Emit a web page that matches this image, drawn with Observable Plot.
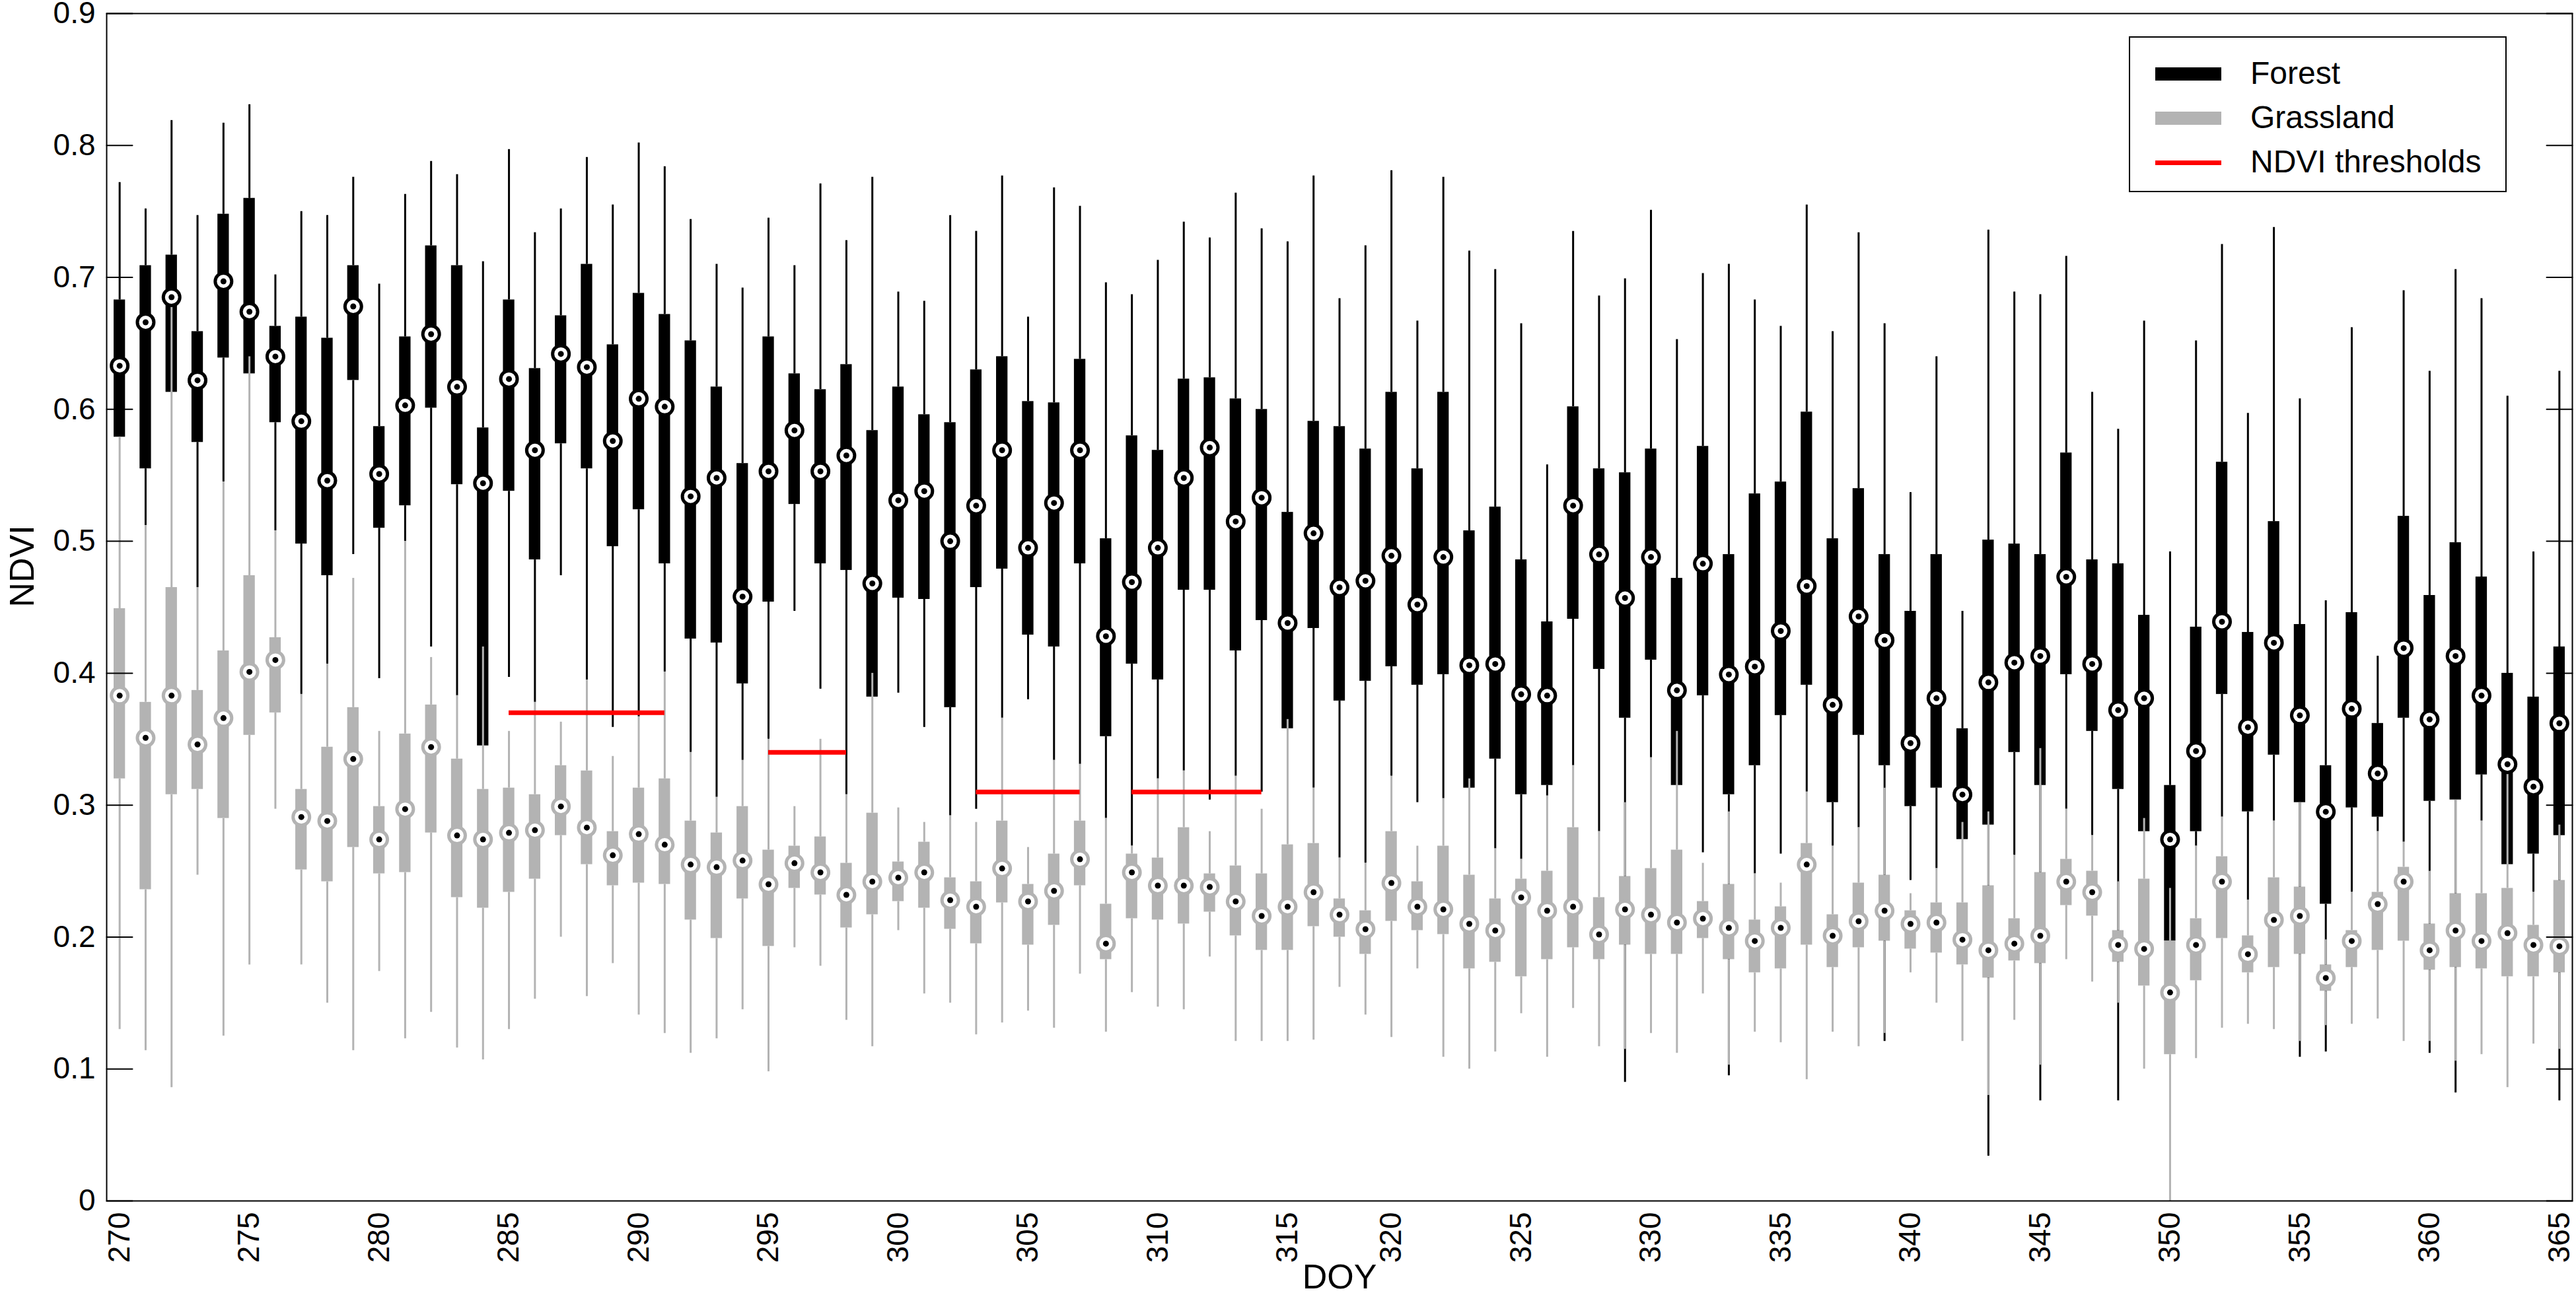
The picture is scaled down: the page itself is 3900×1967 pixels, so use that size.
<!DOCTYPE html>
<html><head><meta charset="utf-8">
<script src="https://cdn.jsdelivr.net/npm/d3@7"></script>
<script src="https://cdn.jsdelivr.net/npm/@observablehq/plot@0.6"></script>
<style>
html,body{margin:0;padding:0;background:#fff;}
#wrap{position:relative;width:3900px;height:1967px;font-family:"Liberation Sans",Arial,Helvetica,sans-serif;}
#legend{position:absolute;left:3223px;top:55px;width:568px;height:232px;border:2px solid #000;background:#fff;}
.sw{position:absolute;left:38px;width:100px;}
.lbl{position:absolute;left:182px;font-size:48px;line-height:48px;white-space:nowrap;color:#000;}
</style></head>
<body><div id="wrap"><div id="chart"></div><div id="legend"></div></div>
<script>
// Day of year for each box (one day between 315 and 320 has no box)
const days = [270,271,272,273,274,275,276,277,278,279,280,281,282,283,284,285,286,287,288,289,
  290,291,292,293,294,295,296,297,298,299,300,301,302,303,304,305,306,307,308,309,
  310,311,312,313,314,315,316,317,319,320,321,322,323,324,325,326,327,328,329,
  330,331,332,333,334,335,336,337,338,339,340,341,342,343,344,345,346,347,348,349,
  350,351,352,353,354,355,356,357,358,359,360,361,362,363,364,365];

// Forest NDVI box statistics
const forestHi = [.772,.752,.819,.747,.817,.831,.702,.750,.747,.776,.695,.763,.788,.778,.712,.797,.734,.752,.791,.755,
  .802,.784,.744,.710,.692,.745,.709,.771,.728,.776,.689,.682,.747,.735,.777,.670,.768,.754,.696,.687,
  .713,.742,.730,.764,.737,.727,.777,.684,.724,.781,.667,.776,.720,.706,.665,.558,.735,.686,.699,
  .751,.653,.703,.710,.683,.663,.755,.659,.734,.665,.537,.640,.447,.736,.689,.687,.716,.613,.585,.667,
  .492,.652,.725,.597,.738,.608,.455,.662,.413,.690,.629,.706,.684,.610,.492,.629];
const forestQ3 = [.683,.709,.717,.659,.748,.760,.663,.670,.654,.709,.587,.655,.724,.709,.586,.683,.631,.671,.710,.649,
  .688,.672,.652,.617,.559,.655,.627,.615,.634,.584,.617,.596,.590,.630,.640,.606,.605,.638,.502,.580,
  .569,.623,.624,.608,.600,.522,.591,.587,.570,.613,.555,.613,.508,.526,.486,.439,.602,.555,.552,
  .570,.472,.572,.490,.536,.545,.598,.502,.540,.490,.447,.490,.358,.501,.498,.490,.567,.486,.483,.444,
  .315,.435,.560,.431,.515,.437,.330,.446,.362,.519,.459,.499,.473,.400,.382,.420];
const forestMed = [.633,.666,.685,.622,.697,.674,.640,.591,.546,.678,.551,.603,.657,.617,.544,.623,.569,.642,.632,.576,
  .608,.602,.534,.548,.458,.553,.584,.553,.565,.468,.531,.538,.500,.527,.569,.495,.529,.569,.428,.469,
  .495,.548,.571,.515,.533,.438,.506,.465,.470,.489,.452,.488,.406,.407,.384,.383,.527,.490,.457,
  .488,.387,.483,.399,.405,.432,.466,.376,.443,.425,.347,.381,.308,.393,.408,.413,.473,.407,.372,.381,
  .274,.341,.439,.359,.423,.368,.295,.373,.324,.419,.365,.413,.383,.331,.314,.362];
const forestQ1 = [.579,.555,.613,.575,.639,.627,.590,.498,.474,.622,.510,.527,.601,.543,.345,.538,.486,.574,.555,.496,
  .524,.483,.426,.423,.392,.454,.528,.483,.478,.382,.457,.456,.374,.465,.479,.429,.420,.483,.352,.407,
  .395,.463,.463,.417,.440,.358,.434,.379,.394,.405,.391,.399,.313,.335,.308,.315,.441,.403,.366,
  .410,.315,.383,.308,.330,.368,.391,.302,.353,.330,.299,.313,.274,.285,.340,.315,.399,.356,.312,.280,
  .197,.280,.384,.295,.338,.302,.225,.298,.291,.366,.303,.304,.323,.255,.263,.277];
const forestLo = [.579,.512,.613,.465,.545,.627,.508,.384,.407,.490,.396,.500,.420,.383,.345,.397,.378,.474,.395,.359,
  .367,.401,.340,.306,.334,.350,.447,.388,.308,.382,.385,.359,.292,.297,.366,.380,.334,.331,.290,.269,
  .320,.326,.304,.322,.310,.358,.313,.260,.256,.322,.302,.305,.313,.267,.259,.307,.330,.280,.090,
  .336,.315,.264,.095,.248,.263,.310,.269,.283,.121,.243,.252,.274,.034,.262,.076,.297,.277,.076,.280,
  .197,.269,.291,.228,.288,.109,.113,.234,.280,.272,.112,.082,.288,.255,.234,.076];

// Grassland NDVI box statistics
const grassHi = [.579,.512,.685,.465,.545,.640,.508,.384,.407,.472,.356,.500,.412,.383,.420,.356,.378,.363,.395,.337,
  .367,.401,.340,.306,.334,.350,.299,.350,.308,.400,.298,.287,.292,.287,.366,.268,.334,.331,.290,.269,
  .320,.326,.280,.322,.297,.365,.313,.260,.256,.322,.269,.305,.320,.267,.259,.307,.330,.280,.302,
  .336,.356,.256,.295,.248,.241,.310,.269,.283,.313,.233,.252,.287,.295,.262,.343,.297,.277,.242,.290,
  .237,.269,.291,.228,.288,.302,.198,.234,.280,.272,.250,.304,.288,.330,.234,.285];
const grassQ3 = [.449,.378,.465,.387,.417,.474,.427,.312,.344,.374,.299,.354,.376,.335,.312,.313,.308,.330,.326,.280,
  .313,.320,.288,.279,.299,.266,.269,.276,.256,.294,.257,.272,.245,.242,.288,.240,.263,.288,.225,.263,
  .260,.283,.248,.254,.248,.270,.271,.229,.220,.280,.242,.269,.247,.229,.244,.250,.283,.230,.246,
  .252,.266,.227,.240,.213,.223,.271,.217,.241,.247,.220,.226,.226,.239,.214,.249,.259,.250,.205,.244,
  .197,.214,.261,.201,.245,.238,.179,.205,.234,.253,.210,.233,.233,.237,.209,.243];
const grassMed = [.383,.351,.383,.346,.366,.401,.410,.291,.288,.335,.274,.297,.344,.277,.274,.279,.281,.299,.283,.262,
  .278,.270,.255,.253,.258,.240,.256,.249,.232,.242,.245,.249,.228,.223,.252,.227,.235,.259,.195,.249,
  .239,.239,.238,.227,.216,.223,.234,.217,.206,.241,.223,.221,.210,.205,.230,.220,.223,.202,.221,
  .217,.211,.214,.207,.197,.207,.255,.201,.212,.220,.210,.211,.198,.190,.195,.201,.242,.234,.194,.191,
  .158,.194,.242,.187,.213,.216,.169,.197,.225,.242,.190,.205,.197,.203,.194,.193];
const grassQ1 = [.320,.236,.308,.312,.290,.353,.370,.251,.242,.268,.248,.249,.279,.230,.222,.234,.244,.277,.255,.239,
  .241,.240,.213,.199,.229,.193,.237,.232,.207,.217,.227,.222,.206,.195,.226,.194,.209,.239,.183,.214,
  .213,.210,.219,.201,.190,.190,.208,.200,.187,.212,.205,.202,.176,.181,.170,.183,.192,.183,.194,
  .187,.187,.199,.183,.173,.176,.194,.177,.192,.197,.191,.188,.179,.169,.182,.180,.224,.216,.181,.163,
  .111,.167,.199,.173,.177,.187,.159,.177,.190,.197,.175,.177,.176,.170,.170,.173];
const grassLo = [.130,.114,.086,.247,.125,.179,.297,.179,.150,.114,.174,.123,.143,.116,.107,.130,.153,.200,.155,.180,
  .141,.127,.112,.123,.145,.098,.192,.178,.137,.117,.205,.157,.150,.126,.135,.144,.131,.172,.128,.158,
  .147,.145,.185,.121,.121,.121,.122,.162,.141,.124,.176,.109,.100,.113,.142,.109,.146,.117,.115,
  .127,.112,.157,.103,.128,.120,.092,.128,.117,.127,.173,.150,.121,.080,.137,.103,.183,.166,.150,.100,
  .000,.108,.131,.134,.130,.121,.133,.134,.138,.121,.121,.106,.111,.086,.119,.115];

// NDVI thresholds (start day, end day, value)
const thresholdStart = [285, 295, 303, 309];
const thresholdEnd = [291, 298, 307, 314];
const thresholdValue = [0.37, 0.34, 0.31, 0.31];

const yTicks = [0, 0.1, 0.2, 0.3, 0.4, 0.5, 0.6, 0.7, 0.8, 0.9];
const xTickDays = [270,275,280,285,290,295,300,305,310,315,320,325,330,335,340,345,350,355,360,365];

const GRAY = "#b3b3b3";
const rows = days.map((d, i) => ({
  i, day: d,
  fHi: forestHi[i], fQ3: forestQ3[i], fMed: forestMed[i], fQ1: forestQ1[i], fLo: forestLo[i],
  gHi: grassHi[i], gQ3: grassQ3[i], gMed: grassMed[i], gQ1: grassQ1[i], gLo: grassLo[i]
}));
const tickIdx = xTickDays.map(d => days.indexOf(d));
const thr = thresholdStart.map((s, k) => ({x1: days.indexOf(s), x2: days.indexOf(thresholdEnd[k]), y: thresholdValue[k]}));
const lineShape = {draw(ctx, l) { ctx.moveTo(0, 0); ctx.lineTo(0, -l); }};
const FONT = "'Liberation Sans', Arial, Helvetica, sans-serif";

const chart = Plot.plot({
  width: 3900, height: 1967,
  marginLeft: 161, marginRight: 6, marginTop: 20, marginBottom: 149,
  style: {fontFamily: FONT, background: "white", color: "black", overflow: "visible"},
  x: {type: "linear", domain: [-0.5, days.length - 0.5]},
  y: {domain: [0, 0.9]},
  marks: [
    Plot.ruleX(rows, {x: "i", y1: "fQ3", y2: "fHi", stroke: "#000", strokeWidth: 3}),
    Plot.ruleX(rows, {x: "i", y1: "fLo", y2: "fQ1", stroke: "#000", strokeWidth: 3}),
    Plot.rectY(rows, {x1: d => d.i - 0.5, x2: d => d.i + 0.5, y1: "fQ1", y2: "fQ3", fill: "#000", insetLeft: 11, insetRight: 11}),
    Plot.ruleX(rows, {x: "i", y1: "gQ3", y2: "gHi", stroke: GRAY, strokeWidth: 3}),
    Plot.ruleX(rows, {x: "i", y1: "gLo", y2: "gQ1", stroke: GRAY, strokeWidth: 3}),
    Plot.rectY(rows, {x1: d => d.i - 0.5, x2: d => d.i + 0.5, y1: "gQ1", y2: "gQ3", fill: GRAY, insetLeft: 11, insetRight: 11}),
    Plot.ruleY(thr, {x1: "x1", x2: "x2", y: "y", stroke: "#ff0000", strokeWidth: 7}),
    Plot.dot(rows, {x: "i", y: "fMed", r: 12.5, fill: "#fff", stroke: "#000", strokeWidth: 5}),
    Plot.dot(rows, {x: "i", y: "fMed", r: 4.5, fill: "#000", stroke: null}),
    Plot.dot(rows, {x: "i", y: "gMed", r: 12.5, fill: "#fff", stroke: GRAY, strokeWidth: 5}),
    Plot.dot(rows, {x: "i", y: "gMed", r: 4.5, fill: "#000", stroke: null}),
    Plot.frame({stroke: "#000", strokeWidth: 2}),
    Plot.vector(yTicks, {y: d => d, frameAnchor: "left", length: 39, rotate: 90, anchor: "start", shape: lineShape, stroke: "#000", strokeWidth: 2}),
    Plot.vector(yTicks, {y: d => d, frameAnchor: "right", length: 39, rotate: -90, anchor: "start", shape: lineShape, stroke: "#000", strokeWidth: 2}),
    Plot.axisY(yTicks, {anchor: "left", tickSize: 0, tickPadding: 17, tickFormat: d => d === 0 ? "0" : d.toFixed(1), fontSize: 46, label: null}),
    Plot.axisX(tickIdx, {anchor: "bottom", tickSize: 0, tickPadding: 17, tickRotate: -90, tickFormat: i => String(days[i]), fontSize: 46, label: null}),
    Plot.text(["DOY"], {text: d => d, frameAnchor: "bottom", dy: 116, fontSize: 52, lineAnchor: "middle"}),
    Plot.text(["NDVI"], {text: d => d, frameAnchor: "left", dx: -127, rotate: -90, fontSize: 52, lineAnchor: "middle"})
  ]
});
document.getElementById("chart").appendChild(chart);

// Legend
const legendItems = [
  {label: "Forest", color: "#000", h: 20},
  {label: "Grassland", color: GRAY, h: 20},
  {label: "NDVI thresholds", color: "#ff0000", h: 7}
];
const leg = document.getElementById("legend");
legendItems.forEach((it, k) => {
  const cy = 55 + k * 67;
  const sw = document.createElement("div");
  sw.className = "sw";
  sw.style.top = (cy - it.h / 2) + "px";
  sw.style.height = it.h + "px";
  sw.style.background = it.color;
  leg.appendChild(sw);
  const tx = document.createElement("div");
  tx.className = "lbl";
  tx.style.top = (cy - 25) + "px";
  tx.textContent = it.label;
  leg.appendChild(tx);
});
</script></body></html>
